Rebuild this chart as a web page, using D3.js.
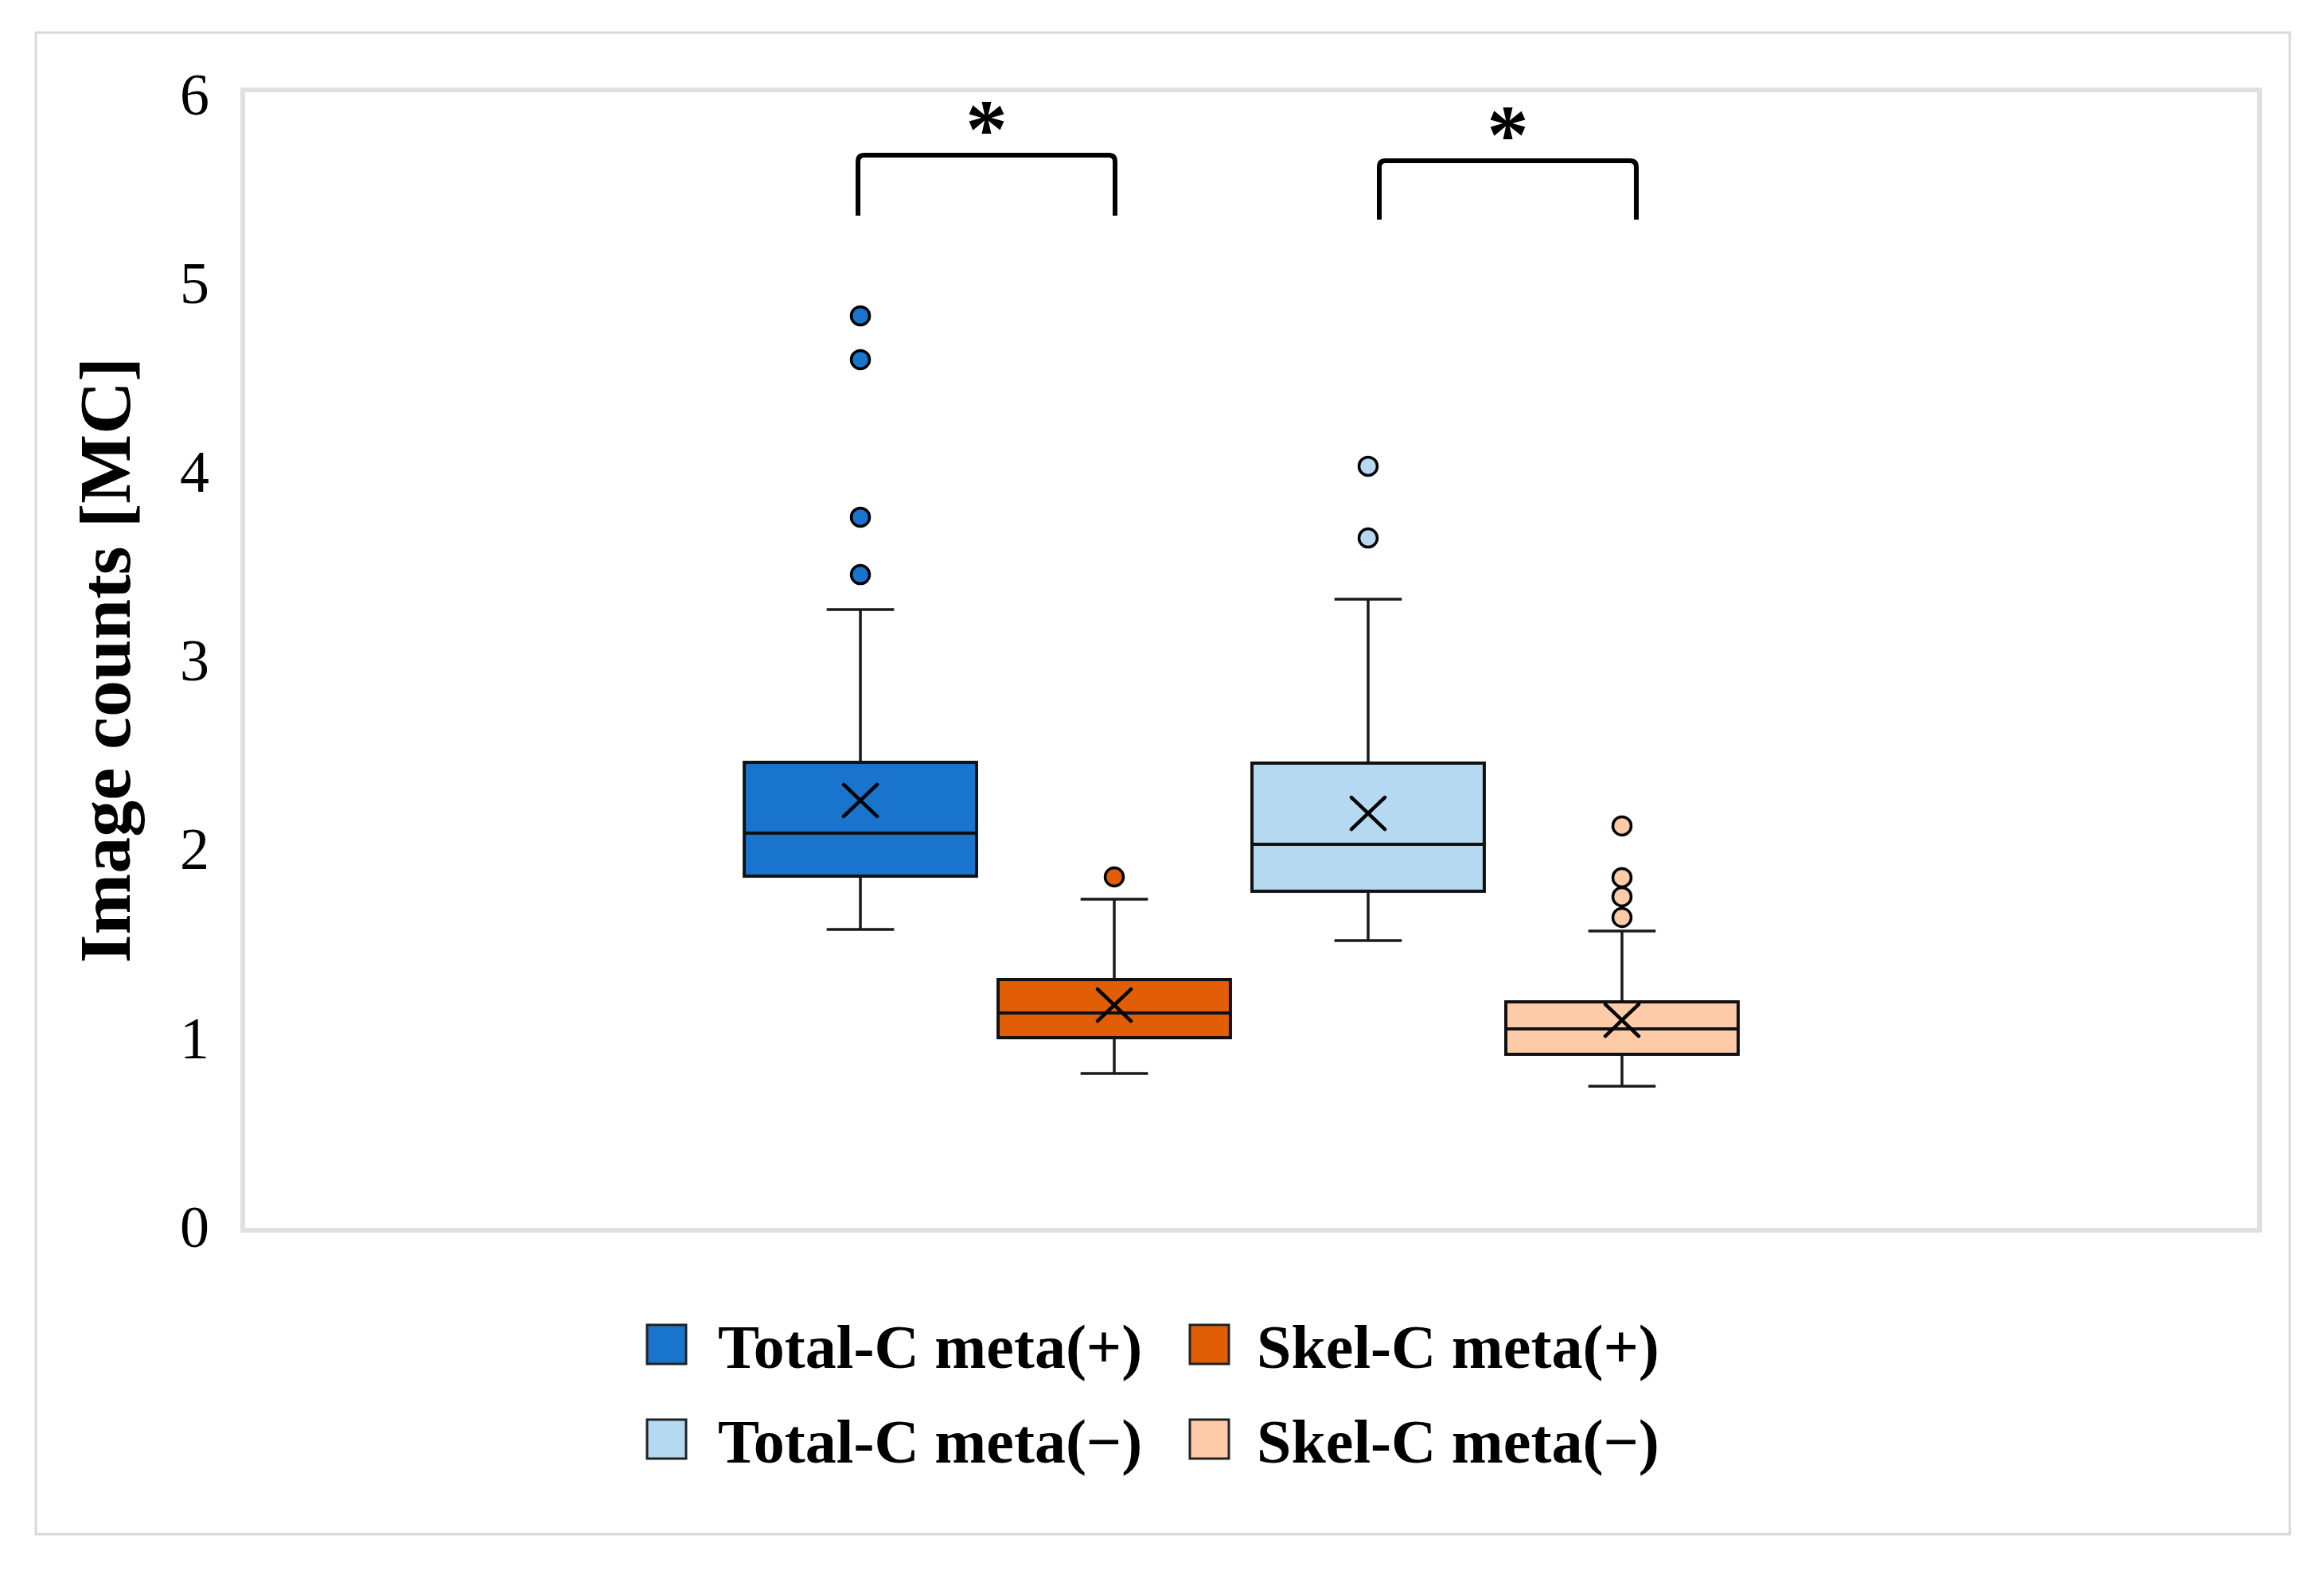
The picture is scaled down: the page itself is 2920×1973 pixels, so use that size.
<!DOCTYPE html>
<html>
<head>
<meta charset="utf-8">
<script src="https://cdn.jsdelivr.net/npm/d3@7"></script>
<style>
  body { margin: 0; background: #fff; }
  text { font-family: "Liberation Serif", "Times New Roman", serif; }
</style>
</head>
<body>
<svg class="chart"></svg>
<script>
var series = ["Total-C meta(+)", "Skel-C meta(+)", "Total-C meta(\u2212)", "Skel-C meta(\u2212)"];
var whiskerLow = [1.573, 0.810, 1.514, 0.742];
var q1 = [1.855, 0.999, 1.775, 0.911];
var median = [2.083, 1.130, 2.024, 1.046];
var q3 = [2.458, 1.307, 2.454, 1.189];
var whiskerHigh = [3.268, 1.733, 3.323, 1.564];
var mean = [2.256, 1.172, 2.188, 1.092];
var outliers = [
	[4.824, 4.592, 3.757, 3.453],
	[1.851],
	[4.027, 3.647],
	[2.121, 1.847, 1.746, 1.636]
];
var yTicks = [0, 1, 2, 3, 4, 5, 6];
// significance brackets: pair of series, top / foot of the bracket in y units
var brackets = [
	{ from: 0, to: 1, top: 5.675, foot: 5.355, label: "*" },
	{ from: 2, to: 3, top: 5.646, foot: 5.334, label: "*" }
];

var colors = ["#1874cd", "#e25e06", "#b5d9f1", "#fecba8"];

var W = 2920, H = 1973;
var plot = { left: 305, top: 113, right: 2839, bottom: 1546 };

var svg = d3.select(".chart")
		.attr("width", W)
		.attr("height", H);

// outer frame
svg.append("rect")
		.attr("x", 45).attr("y", 41)
		.attr("width", 2877 - 45).attr("height", 1928 - 41)
		.attr("fill", "#fff")
		.attr("stroke", "#d9d9d9")
		.attr("stroke-width", 3);

// plot area border
svg.append("rect")
		.attr("x", plot.left).attr("y", plot.top)
		.attr("width", plot.right - plot.left).attr("height", plot.bottom - plot.top)
		.attr("fill", "none")
		.attr("stroke", "#e0e0e0")
		.attr("stroke-width", 6);

var y = d3.scaleLinear()
		.domain([0, 6])
		.range([1541, 118]);

var x = d3.scaleBand()
		.domain(series)
		.range([908, 2211])
		.padding(0.085);

var yAxis = svg.append("g")
		.attr("transform", "translate(" + plot.left + ",0)")
		.call(d3.axisLeft(y).tickValues(yTicks).tickSize(0).tickPadding(42).tickFormat(d3.format("d")));
yAxis.select(".domain").remove();
yAxis.selectAll("text")
		.attr("font-family", "Liberation Serif")
		.attr("font-size", 74)
		.attr("fill", "#000")
		.attr("dy", "0.34em");

svg.append("text")
		.attr("transform", "translate(163," + (plot.top + plot.bottom) / 2 + ") rotate(-90)")
		.attr("text-anchor", "middle")
		.attr("font-size", 92)
		.attr("font-weight", "bold")
		.text("Image counts [MC]");

var bw = x.bandwidth(),
		capW = bw * 0.29;

var box = svg.selectAll("g.box")
	.data(series)
	.enter().append("g")
		.attr("class", "box")
		.attr("transform", function(d) { return "translate(" + (x(d) + bw / 2) + ",0)"; });

// whiskers
box.append("path")
		.attr("d", function(d, i) {
			return "M0," + y(q3[i]) + "V" + y(whiskerHigh[i]) +
				"M" + (-capW / 2) + "," + y(whiskerHigh[i]) + "H" + (capW / 2) +
				"M0," + y(q1[i]) + "V" + y(whiskerLow[i]) +
				"M" + (-capW / 2) + "," + y(whiskerLow[i]) + "H" + (capW / 2);
		})
		.attr("stroke", "#1a1a1a")
		.attr("stroke-width", 3.5)
		.attr("fill", "none");

box.append("rect")
		.attr("x", -bw / 2)
		.attr("width", bw)
		.attr("y", function(d, i) { return y(q3[i]); })
		.attr("height", function(d, i) { return y(q1[i]) - y(q3[i]); })
		.attr("fill", function(d, i) { return colors[i]; })
		.attr("stroke", "#111")
		.attr("stroke-width", 4);

box.append("line")
		.attr("x1", -bw / 2).attr("x2", bw / 2)
		.attr("y1", function(d, i) { return y(median[i]); })
		.attr("y2", function(d, i) { return y(median[i]); })
		.attr("stroke", "#111")
		.attr("stroke-width", 4);

// mean marker
box.append("path")
		.attr("d", function(d, i) {
			var cy = y(mean[i]), sx = 21, sy = 20;
			return "M" + (-sx) + "," + (cy - sy) + "L" + sx + "," + (cy + sy) +
				"M" + sx + "," + (cy - sy) + "L" + (-sx) + "," + (cy + sy);
		})
		.attr("stroke", "#000")
		.attr("stroke-width", 4.5)
		.attr("stroke-linecap", "round")
		.attr("fill", "none");

box.selectAll("circle")
	.data(function(d, i) { return outliers[i].map(function(v) { return { v: v, i: i }; }); })
	.enter().append("circle")
		.attr("cx", 0)
		.attr("cy", function(d) { return y(d.v); })
		.attr("r", 11.5)
		.attr("fill", function(d) { return colors[d.i]; })
		.attr("stroke", "#000")
		.attr("stroke-width", 3.5);

// brackets
var nudge = [-3, 14];
var br = svg.selectAll("g.bracket")
	.data(brackets)
	.enter().append("g")
		.attr("class", "bracket");

br.append("path")
		.attr("d", function(d, k) {
			var x1 = x(series[d.from]) + bw / 2 + nudge[k],
					x2 = x(series[d.to]) + bw / 2 + nudge[k] + 4,
					t = y(d.top), f = y(d.foot), r = 8;
			return "M" + x1 + "," + f + "V" + (t + r) + "Q" + x1 + "," + t + " " + (x1 + r) + "," + t +
				"H" + (x2 - r) + "Q" + x2 + "," + t + " " + x2 + "," + (t + r) + "V" + f;
		})
		.attr("stroke", "#000")
		.attr("stroke-width", 6)
		.attr("fill", "none");

br.append("text")
		.attr("x", function(d, k) {
			return (x(series[d.from]) + x(series[d.to])) / 2 + bw / 2 + nudge[k] + 2;
		})
		.attr("y", function(d) { return y(d.top) + 3; })
		.attr("text-anchor", "middle")
		.attr("font-size", 105)
		.attr("font-weight", "bold")
		.text(function(d) { return d.label; });

// legend, two columns by two rows
var legendX = [813, 1495],
		legendY = [1665, 1784];

var item = svg.selectAll("g.legend")
	.data(series)
	.enter().append("g")
		.attr("class", "legend")
		.attr("transform", function(d, i) {
			return "translate(" + legendX[i % 2] + "," + legendY[Math.floor(i / 2)] + ")";
		});

item.append("rect")
		.attr("width", 49)
		.attr("height", 49)
		.attr("fill", function(d, i) { return colors[i]; })
		.attr("stroke", "#222")
		.attr("stroke-width", 3);

item.append("text")
		.attr("x", function(d, i) { return i % 2 ? 84 : 89; })
		.attr("y", 54)
		.attr("font-size", 78)
		.attr("font-weight", "bold")
		.text(function(d) { return d; });
</script>
</body>
</html>
